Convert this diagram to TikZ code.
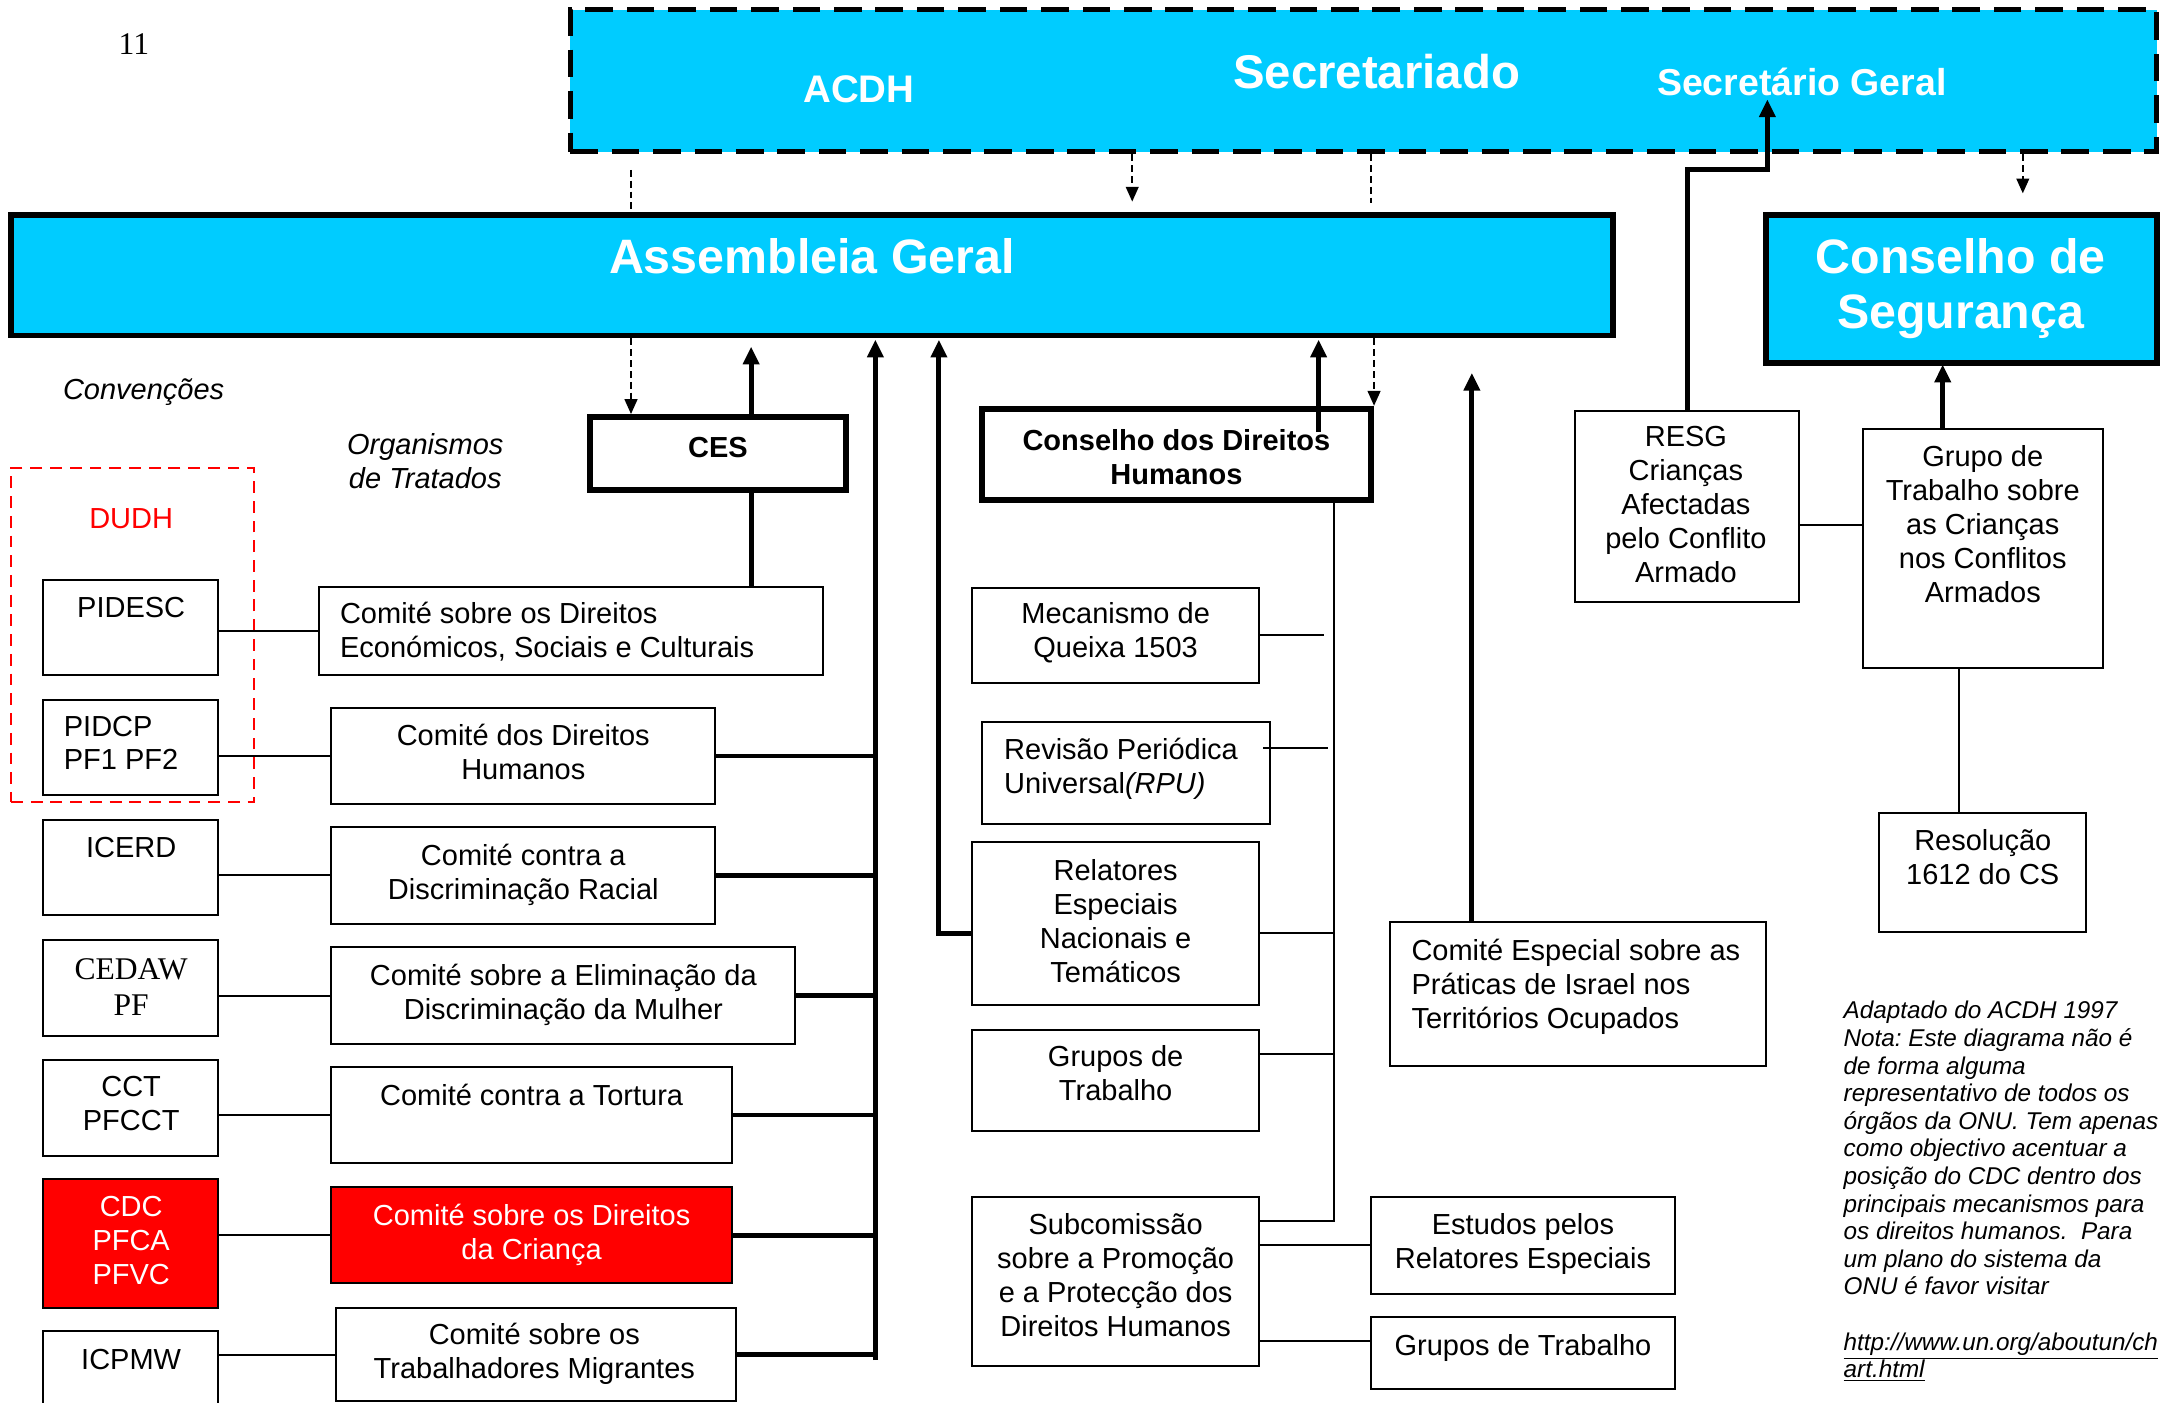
\documentclass[tikz,border=0pt]{standalone}
\usepackage{fontspec}
\setmainfont{Liberation Sans}
\newfontfamily\tmsfont{Liberation Serif}
\usetikzlibrary{arrows.meta,fit}
\definecolor{uncyan}{HTML}{00CCFF}
\definecolor{unred}{HTML}{FF0000}
\newcommand\mkbox[6][box]{\node[#1, fit={(#3,#4) (#5,#6)}] (#2) {};}
\begin{document}
\frenchspacing
\begin{tikzpicture}[x=0.7pt,y=-0.7pt,
  every node/.style={inner sep=0pt, font=\fontsize{14.7}{17.2}\selectfont},
  box/.style={draw=black, line width=1pt, fill=white},
  thickbox/.style={draw=black, line width=3pt, fill=white},
  bigbox/.style={draw=black, line width=3pt, fill=uncyan},
  redfill/.style={draw=black, line width=1pt, fill=unred},
  secbox/.style={draw=black, line width=2.5pt, fill=uncyan, dash pattern=on 14pt off 7pt},
  dudhbox/.style={draw=unred, line width=1pt, dash pattern=on 6pt off 4pt},
  ctext/.style={align=center},
  ltext/.style={align=left, anchor=west},
  wtext/.style={text=white, align=center},
  titlefont/.style={text=white, font=\bfseries\fontsize{#1}{28}\selectfont},
  bfont/.style={font=\bfseries\fontsize{14.7}{17.2}\selectfont},
  ifont/.style={font=\itshape\fontsize{14.7}{17.2}\selectfont},
  serif/.style={font=\tmsfont\fontsize{16}{18.2}\selectfont},
  thinline/.style={line width=1pt},
  thickline/.style={line width=2.5pt},
  thickarrow/.style={line width=2.5pt, -{Triangle[length=9pt,width=8pt]}},
  dashline/.style={line width=0.8pt, dash pattern=on 3.5pt off 2pt},
  dasharrow/.style={dashline, -{Triangle[length=7.5pt,width=6.5pt]}},
]
\useasboundingbox (0,0) rectangle (1568,1016);

% ---------- boxes ----------
\mkbox[secbox]{sec}{413}{7}{1562}{110}
\mkbox[bigbox]{ag}{8}{156}{1168}{243}
\mkbox[bigbox]{cs}{1279}{156}{1562}{263}
\mkbox[dudhbox]{dudh}{8}{339}{184}{581}
\mkbox{pidesc}{31}{420}{158}{489}
\mkbox{pidcp}{31}{507}{158}{576}
\mkbox{icerd}{31}{594}{158}{663}
\mkbox{cedawB}{31}{681}{158}{750}
\mkbox{cct}{31}{768}{158}{837}
\mkbox[redfill]{cdc}{31}{854}{158}{947}
\mkbox{icpmw}{31}{964}{158}{1030}
\mkbox{cescr}{231}{425}{596}{489}
\mkbox{ccpr}{240}{513}{518}{582}
\mkbox{cerd}{240}{599}{518}{669}
\mkbox{cedawc}{240}{686}{576}{756}
\mkbox{cat}{240}{773}{530}{842}
\mkbox[redfill]{crc}{240}{860}{530}{929}
\mkbox{cmw}{243}{947}{533}{1015}
\mkbox[thickbox]{ces}{427}{302}{613}{355}
\mkbox[thickbox]{cdh}{711}{296}{993}{362}
\mkbox{mec}{704}{426}{912}{495}
\mkbox{rpu}{711}{523}{920}{597}
\mkbox{rel}{704}{610}{912}{728}
\mkbox{gtA}{704}{746}{912}{819}
\mkbox{sub}{704}{867}{912}{989}
\mkbox{est}{993}{867}{1213}{937}
\mkbox{gtB}{993}{954}{1213}{1006}
\mkbox{esp}{1007}{668}{1279}{772}
\mkbox{resg}{1141}{298}{1303}{436}
\mkbox{gtcs}{1349}{311}{1523}{484}
\mkbox{res}{1361}{589}{1511}{675}

% ---------- texts ----------
\node[serif] (pg) at (97,32) {11};
\node[titlefont=19.5, anchor=base] (tacdh) at (622,74) {ACDH};
\node[titlefont=24, anchor=base] (tsecr) at (997,64) {Secretariado};
\node[titlefont=19, anchor=base] (tsg) at (1305,69) {Secretário Geral};
\node[titlefont=24.5, anchor=base] (tag) at (588,198) {Assembleia Geral};
\node[titlefont=24.5, align=center] (tcs) at (1420,209) {Conselho de\\Segurança};

\node[ifont, anchor=base] (tconv) at (104,289) {Convenções};
\node[ifont, align=center] (torg) at (308,334) {Organismos\\de Tratados};
\node[anchor=base, text=unred] (tdudh) at (95,383) {DUDH};
\node[anchor=base] (tpidesc) at (95,447) {PIDESC};
\node[ltext] (tpidcp) at (46,538) {PIDCP\\PF1 PF2};
\node[anchor=base] (ticerd) at (95,621) {ICERD};
\node[serif, align=center] (tcedaw) at (95,715) {CEDAW\\PF};
\node[ctext] (tcct) at (95,799.5) {CCT\\PFCCT};
\node[wtext] (tcdc) at (95,898.5) {CDC\\PFCA\\PFVC};
\node[anchor=base] (ticpmw) at (95,992) {ICPMW};

\node[ltext] (tcescr) at (246,457.5) {Comité sobre os Direitos\\Económicos, Sociais e Culturais};
\node[ctext] (tccpr) at (379,544.5) {Comité dos Direitos\\Humanos};
\node[ctext] (tcerd) at (379,633.5) {Comité contra a\\Discriminação Racial};
\node[ctext] (tcedawc) at (408,720.5) {Comité sobre a Eliminação da\\Discriminação da Mulher};
\node[anchor=base] (tcat) at (385,801) {Comité contra a Tortura};
\node[wtext] (tcrc) at (385,894.5) {Comité sobre os Direitos\\da Criança};
\node[ctext] (tcmw) at (387,980.5) {Comité sobre os\\Trabalhadores Migrantes};

\node[bfont, anchor=base] (tces) at (520,331) {CES};
\node[bfont, align=center] (tcdh) at (852,331) {Conselho dos Direitos\\Humanos};
\node[ctext] (tmec) at (808,458) {Mecanismo de\\Queixa 1503};
\node[ltext] (trpu) at (727,556.5) {Revisão Periódica\\Universal\textit{(RPU)}};
\node[ctext] (trel) at (808,667) {Relatores\\Especiais\\Nacionais e\\Temáticos};
\node[ctext] (tgtA) at (808,777) {Grupos de\\Trabalho};
\node[ctext] (tsub) at (808,923.5) {Subcomissão\\sobre a Promoção\\e a Protecção dos\\Direitos Humanos};
\node[ctext] (test) at (1103,901) {Estudos pelos\\Relatores Especiais};
\node[anchor=base] (tgtB) at (1103,982) {Grupos de Trabalho};
\node[ltext] (tesp) at (1022,714.5) {Comité Especial sobre as\\Práticas de Israel nos\\Territórios Ocupados};
\node[ctext] (tresg) at (1221,365.5) {RESG\\Crianças\\Afectadas\\pelo Conflito\\Armado};
\node[ctext] (tgtcs) at (1436,379.5) {Grupo de\\Trabalho sobre\\as Crianças\\nos Conflitos\\Armados};
\node[ctext] (tres) at (1436,621) {Resolução\\1612 do CS};

\node[align=left, anchor=west, font=\itshape\fontsize{12.3}{14}\selectfont] (tnote) at (1335,863)
 {Adaptado do ACDH 1997\\
  Nota: Este diagrama não é\\
  de forma alguma\\
  representativo de todos os\\
  órgãos da ONU. Tem apenas\\
  como objectivo acentuar a\\
  posição do CDC dentro dos\\
  principais mecanismos para\\
  os direitos humanos.\ \ Para\\
  um plano do sistema da\\
  ONU é favor visitar\\
  \strut\\
  \underline{http://www.un.org/aboutun/ch}\\
  \underline{art.html}};

% ---------- coordinates ----------
\coordinate (dA) at (457,123);
\coordinate (dB) at (820,146);
\coordinate (dC) at (993,147);
\coordinate (dD) at (1465,140);
\coordinate (tCES) at (544,251);
\coordinate (busTop) at (634,246);
\coordinate (busBot) at (634,985);
\coordinate (tRel) at (680,246);
\coordinate (yRel) at (0,676);
\coordinate (tCDH) at (955,246);
\coordinate (sCDH) at (955,313);
\coordinate (tEsp) at (1066,270);
\coordinate (kRes) at (1280,123);
\coordinate (tSG) at (1280,72);
\coordinate (tCS) at (1407,264);
\coordinate (vx) at (966,884);
\coordinate (mecEnd) at (959,460);
\coordinate (rpuStart) at (915,542);
\coordinate (rpuEnd) at (962,542);
\coordinate (yGtA) at (0,763);
\coordinate (yGtB) at (0,971);
\coordinate (yRG) at (0,380);
\coordinate (xGR) at (1419,0);

% ---------- dashed connectors ----------
\draw[dashline] (dA) -- (dA |- ag.north);
\draw[dasharrow] (ag.south -| dA) -- (ces.north -| dA);
\draw[dasharrow] (sec.south -| dB) -- (dB);
\draw[dashline] (sec.south -| dC) -- (dC);
\draw[dasharrow] (ag.south -| cdh.north east) -- (cdh.north east);
\draw[dasharrow] (sec.south -| dD) -- (dD);

% ---------- thin connectors ----------
\draw[thinline] (pidesc.east |- cescr.west) -- (cescr.west);
\draw[thinline] (pidcp.east |- ccpr.west) -- (ccpr.west);
\draw[thinline] (icerd.east |- cerd.west) -- (cerd.west);
\draw[thinline] (cedawB.east |- cedawc.west) -- (cedawc.west);
\draw[thinline] (cct.east |- cat.west) -- (cat.west);
\draw[thinline] (cdc.east |- crc.west) -- (crc.west);
\draw[thinline] (icpmw.east |- cmw.west) -- (cmw.west);

\draw[thinline] (cdh.south -| vx) -- (vx) -- (sub.east |- vx);
\draw[thinline] (mec.east |- mecEnd) -- (mecEnd);
\draw[thinline] (rpuStart) -- (rpuEnd);
\draw[thinline] (rel.east |- yRel) -- (yRel -| vx);
\draw[thinline] (gtA.east |- yGtA) -- (yGtA -| vx);
\draw[thinline] (sub.east |- est.west) -- (est.west);
\draw[thinline] (sub.east |- yGtB) -- (gtB.west |- yGtB);
\draw[thinline] (resg.east |- yRG) -- (gtcs.west |- yRG);
\draw[thinline] (gtcs.south -| xGR) -- (res.north -| xGR);

% ---------- thick connectors ----------
\draw[thickline] (ces.south -| tCES) -- (cescr.north -| tCES);
\draw[thickarrow] (ces.north -| tCES) -- (tCES);
\draw[thickarrow] (busBot) -- (busTop);
\foreach \n in {ccpr,cerd,cedawc,cat,crc,cmw}
  \draw[thickline] (\n.east) -- (\n.east -| busTop);
\draw[thickarrow] (rel.west |- yRel) -| (tRel);
\draw[thickarrow] (sCDH) -- (tCDH);
\draw[thickarrow] (esp.north -| tEsp) -- (tEsp);
\draw[thickarrow] (resg.north) |- (kRes) -- (tSG);
\draw[thickarrow] (gtcs.north -| tCS) -- (tCS);
\end{tikzpicture}
\end{document}
